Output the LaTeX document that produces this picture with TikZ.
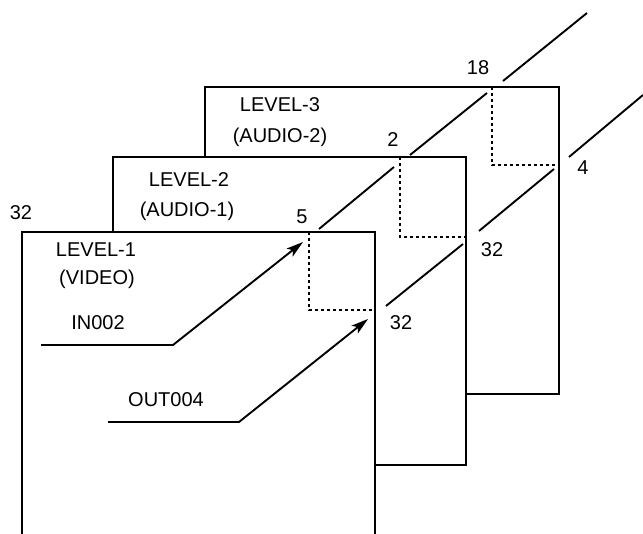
\documentclass[tikz,border=0pt]{standalone}
\usepackage{fontspec}
\setmainfont{Liberation Sans}
\usetikzlibrary{arrows.meta}

\begin{document}
\begin{tikzpicture}[
  x=1pt, y=-1pt,
  frame/.style={line width=1.9pt},
  route/.style={line width=1.5pt, dash pattern=on 3pt off 3pt},
  link/.style={line width=1.9pt},
  feed/.style={line width=1.9pt, -{Stealth[length=17pt, width=10pt, inset=4pt]}},
  lab/.style={anchor=base, inner sep=0pt, font=\fontsize{20}{24}\selectfont}
]
\useasboundingbox (0,0) rectangle (643,534);

% ---------- Level frames, back to front ----------
\draw[frame] (205,157) -- (205,87) -- (559,87) -- (559,394) -- (466,394);
\draw[frame] (113,232) -- (113,157) -- (466,157) -- (466,465) -- (375,465);
\draw[frame] (22,534) -- (22,232) -- (375,232) -- (375,534);

% ---------- Crosspoint routes ----------
\draw[route] (309,232) -- (309,310) -- (375,310);
\draw[route] (400,157) -- (400,237) -- (466,237);
\draw[route] (492,87) -- (492,165) -- (559,165);

% ---------- Input bus between levels ----------
\coordinate (in1a) at (319,229);
\coordinate (in1b) at (394,167);
\coordinate (in2a) at (410,155);
\coordinate (in2b) at (487,93);
\coordinate (in3a) at (503,81);
\coordinate (in3b) at (587,13);
\draw[link] (in1a) -- (in1b);
\draw[link] (in2a) -- (in2b);
\draw[link] (in3a) -- (in3b);

% ---------- Output bus between levels ----------
\coordinate (out1a) at (386,306);
\coordinate (out1b) at (463,244);
\coordinate (out2a) at (479,231);
\coordinate (out2b) at (554,169);
\coordinate (out3a) at (569,157);
\coordinate (out3b) at (643,95);
\draw[link] (out1a) -- (out1b);
\draw[link] (out2a) -- (out2b);
\draw[link] (out3a) -- (out3b);

% ---------- Feeds into level 1 ----------
\coordinate (inS) at (41,345);
\coordinate (inK) at (173,345);
\coordinate (inT) at (303,242);
\draw[feed] (inS) -- (inK) -- (inT);
\coordinate (outS) at (108,422);
\coordinate (outK) at (239,422);
\coordinate (outT) at (368,319);
\draw[feed] (outS) -- (outK) -- (outT);

% ---------- Labels ----------
\node[lab] (lv1) at (96,257) {LEVEL-1};
\node[lab] (lv1s) at (97,285) {(VIDEO)};
\node[lab] (lv2) at (189,187) {LEVEL-2};
\node[lab] (lv2s) at (187,217) {(AUDIO-1)};
\node[lab] (lv3) at (280,112) {LEVEL-3};
\node[lab] (lv3s) at (280,143) {(AUDIO-2)};
\node[lab] (inlab) at (98,330) {IN002};
\node[lab] (outlab) at (166,407) {OUT004};
\node[lab] (n32a) at (21,220) {32};
\node[lab] (n5) at (302,224) {5};
\node[lab] (n2) at (393,147) {2};
\node[lab] (n18) at (478,75) {18};
\node[lab] (n32b) at (401,330) {32};
\node[lab] (n32c) at (492,257) {32};
\node[lab] (n4) at (583,175) {4};

\end{tikzpicture}
\end{document}
